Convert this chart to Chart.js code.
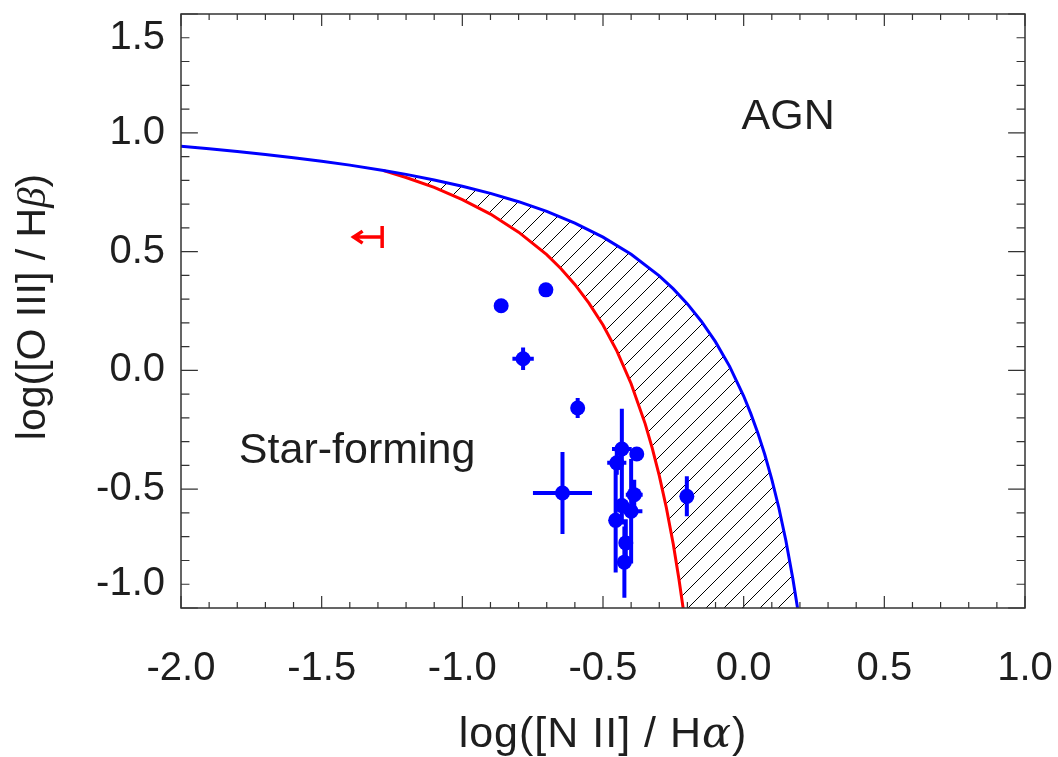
<!DOCTYPE html>
<html>
<head>
<meta charset="utf-8">
<script src="https://cdn.jsdelivr.net/npm/chart.js@4.4.0/dist/chart.umd.min.js"></script>
<style>
  body { margin: 0; background: #fff; }
  canvas { display: block; }
</style>
</head>
<body>
<canvas id="bpt" width="1058" height="757"></canvas>
<script>
//############################
//######    Data     ########
//############################

// galaxies: log([N II]/Ha), log([O III]/Hb) and their 1-sigma errors
const sfX    = [-0.862, -0.703, -0.784, -0.590, -0.644, -0.202, -0.433, -0.380, -0.451, -0.389, -0.433, -0.400, -0.455, -0.419, -0.424];
const sfY    = [ 0.272,  0.339,  0.049, -0.158, -0.516, -0.530, -0.331, -0.352, -0.389, -0.523, -0.569, -0.593, -0.631, -0.726, -0.807];
const sfXerr = [ 0.000,  0.000,  0.038,  0.012,  0.105,  0.000,  0.035,  0.000,  0.034,  0.030,  0.000,  0.040,  0.000,  0.000,  0.000];
const sfYerr = [ 0.000,  0.000,  0.047,  0.042,  0.173,  0.084,  0.170,  0.000,  0.050,  0.063,  0.080,  0.220,  0.220,  0.100,  0.150];

// one object with only an upper limit on [N II]/Ha
const limX = [-1.285];
const limY = [0.561];
const limLen = 0.105;

// Kewley et al. (2001) maximum starburst line
const kewX = [-2.0, -1.9, -1.8, -1.7, -1.6, -1.5, -1.4, -1.28, -1.2, -1.1, -1.0, -0.9, -0.8, -0.7, -0.6, -0.5, -0.4, -0.3, -0.25, -0.2, -0.15, -0.1, -0.05, 0.0, 0.025, 0.05, 0.075, 0.1, 0.125, 0.15, 0.175, 0.192];
const kewY = [0.943, 0.933, 0.921, 0.909, 0.895, 0.880, 0.864, 0.841, 0.825, 0.801, 0.775, 0.745, 0.710, 0.669, 0.620, 0.561, 0.489, 0.398, 0.343, 0.280, 0.206, 0.120, 0.017, -0.108, -0.181, -0.262, -0.354, -0.459, -0.578, -0.716, -0.878, -1.004];

// Kauffmann et al. (2003) empirical line
const kaufX = [-1.28, -1.2, -1.1, -1.0, -0.9, -0.8, -0.7, -0.65, -0.6, -0.55, -0.5, -0.45, -0.4, -0.35, -0.325, -0.3, -0.275, -0.25, -0.23, -0.215];
const kaufY = [0.841, 0.812, 0.770, 0.719, 0.658, 0.582, 0.487, 0.429, 0.362, 0.283, 0.191, 0.080, -0.056, -0.225, -0.327, -0.443, -0.577, -0.733, -0.879, -1.002];

// axis labels (the end labels on y sit one minor tick inside the frame)
const xTicks = [-2.0, -1.5, -1.0, -0.5, 0.0, 0.5, 1.0];
const yTickVals = [-0.9, -0.5, 0.0, 0.5, 1.0, 1.4];
const yTickText = ['-1.0', '-0.5', '0.0', '0.5', '1.0', '1.5'];

const regionText = ['AGN', 'Star-forming'];
const regionX = [0.158, -1.374];
const regionY = [1.065, -0.338];

//############################
//######   Helpers   ########
//############################

const FONT = '"Liberation Sans", Arial, Helvetica, sans-serif';
const INK = '#1e1e1e';

function toPoints(xs, ys) {
  return xs.map((x, i) => ({ x: x, y: ys[i] }));
}

// composite region between the two lines: Kewley from where they meet, back up along Kauffmann
const iMeet = kewX.indexOf(kaufX[0]);
const hatchPts = toPoints(kewX.slice(iMeet), kewY.slice(iMeet))
  .concat(toPoints(kaufX, kaufY).reverse());

function hatchPattern() {
  const s = 18;
  const c = document.createElement('canvas');
  c.width = s; c.height = s;
  const g = c.getContext('2d');
  g.strokeStyle = '#000';
  g.lineWidth = 1;
  g.beginPath();
  g.moveTo(0, s); g.lineTo(s, 0);
  g.moveTo(-2, 2); g.lineTo(2, -2);
  g.moveTo(s - 2, s + 2); g.lineTo(s + 2, s - 2);
  g.stroke();
  return g.createPattern(c, 'repeat');
}

// text made of pieces with their own fonts, centred on x
function drawMixed(ctx, parts, x, y, spacing) {
  ctx.letterSpacing = (spacing || 0) + 'px';
  let w = 0;
  parts.forEach(p => { ctx.font = p[1]; w += ctx.measureText(p[0]).width; });
  let cx = x - w / 2;
  ctx.textAlign = 'left';
  ctx.textBaseline = 'alphabetic';
  parts.forEach(p => {
    ctx.font = p[1];
    ctx.fillText(p[0], cx, y);
    cx += ctx.measureText(p[0]).width;
  });
  ctx.letterSpacing = '0px';
}

//############################
//######   Plugins   ########
//############################

const errorBars = {
  id: 'errorBars',
  afterDatasetsDraw(chart) {
    const ctx = chart.ctx, xs = chart.scales.x, ys = chart.scales.y;
    ctx.save();
    ctx.strokeStyle = '#0000ff';
    ctx.lineWidth = 4;
    ctx.beginPath();
    for (let i = 0; i < sfX.length; i++) {
      const px = xs.getPixelForValue(sfX[i]);
      const py = ys.getPixelForValue(sfY[i]);
      if (sfXerr[i] > 0) {
        ctx.moveTo(xs.getPixelForValue(sfX[i] - sfXerr[i]), py);
        ctx.lineTo(xs.getPixelForValue(sfX[i] + sfXerr[i]), py);
      }
      if (sfYerr[i] > 0) {
        ctx.moveTo(px, ys.getPixelForValue(sfY[i] - sfYerr[i]));
        ctx.lineTo(px, ys.getPixelForValue(sfY[i] + sfYerr[i]));
      }
    }
    ctx.stroke();

    // upper limit: bar plus arrow pointing to lower [N II]/Ha
    ctx.strokeStyle = '#ff0000';
    ctx.lineWidth = 3.5;
    for (let i = 0; i < limX.length; i++) {
      const px = xs.getPixelForValue(limX[i]);
      const py = ys.getPixelForValue(limY[i]);
      const tip = xs.getPixelForValue(limX[i] - limLen);
      ctx.beginPath();
      ctx.moveTo(px, py - 11); ctx.lineTo(px, py + 11);
      ctx.moveTo(px, py); ctx.lineTo(tip, py);
      ctx.moveTo(tip + 10, py - 6); ctx.lineTo(tip + 1, py); ctx.lineTo(tip + 10, py + 6);
      ctx.stroke();
    }
    ctx.restore();
  }
};

const frame = {
  id: 'frame',
  afterDraw(chart) {
    const ctx = chart.ctx, a = chart.chartArea;
    const xs = chart.scales.x, ys = chart.scales.y;
    const w = a.right - a.left, h = a.bottom - a.top;
    ctx.save();

    // box
    ctx.strokeStyle = '#333';
    ctx.lineWidth = 1.5;
    ctx.strokeRect(a.left, a.top, w, h);

    // inward ticks on all four sides, major every 0.5, minor every 0.1
    ctx.lineWidth = 1.2;
    ctx.beginPath();
    for (let k = 0; k <= 30; k++) {
      const v = -2 + k * 0.1;
      const px = xs.getPixelForValue(v);
      const len = (k % 5 === 0) ? 0.02 * h : 0.01 * h;
      ctx.moveTo(px, a.bottom); ctx.lineTo(px, a.bottom - len);
      ctx.moveTo(px, a.top); ctx.lineTo(px, a.top + len);
    }
    for (let k = 0; k <= 25; k++) {
      const v = -1 + k * 0.1;
      const py = ys.getPixelForValue(v);
      const len = (k % 5 === 0) ? 0.02 * w : 0.01 * w;
      ctx.moveTo(a.left, py); ctx.lineTo(a.left + len, py);
      ctx.moveTo(a.right, py); ctx.lineTo(a.right - len, py);
    }
    ctx.stroke();

    // axis titles
    ctx.fillStyle = INK;
    drawMixed(ctx, [['log([N II] / H', '43px ' + FONT],
                    ['\u03b1', 'italic 43px "DejaVu Serif", serif'],
                    [')', '43px ' + FONT]],
      (a.left + a.right) / 2, 747, 1);

    ctx.save();
    ctx.translate(45, (a.top + a.bottom) / 2 - 4);
    ctx.rotate(-Math.PI / 2);
    drawMixed(ctx, [['log([O III] / H', '41px ' + FONT],
                    ['\u03b2', 'italic 41px "Liberation Serif", serif'],
                    [')', '41px ' + FONT]], 0, 0);
    ctx.restore();

    // region names
    ctx.font = '43px ' + FONT;
    ctx.textAlign = 'center';
    ctx.textBaseline = 'middle';
    for (let i = 0; i < regionText.length; i++) {
      ctx.fillText(regionText[i], xs.getPixelForValue(regionX[i]), ys.getPixelForValue(regionY[i]));
    }
    ctx.restore();
  }
};

//############################
//######    Chart    ########
//############################

const config = {
  type: 'scatter',
  data: {
    datasets: [
      {
        label: 'galaxies',
        data: toPoints(sfX, sfY),
        backgroundColor: '#0000ff',
        borderWidth: 0,
        pointRadius: 7.5
      },
      {
        label: 'Kewley 2001',
        data: toPoints(kewX, kewY),
        showLine: true,
        borderColor: '#0000ff',
        borderWidth: 3,
        pointRadius: 0,
        tension: 0
      },
      {
        label: 'Kauffmann 2003',
        data: toPoints(kaufX, kaufY),
        showLine: true,
        borderColor: '#ff0000',
        borderWidth: 3,
        pointRadius: 0,
        tension: 0
      },
      {
        label: 'composite',
        data: hatchPts,
        showLine: true,
        fill: 'shape',
        backgroundColor: hatchPattern(),
        borderWidth: 0,
        pointRadius: 0,
        tension: 0
      }
    ]
  },
  options: {
    responsive: false,
    animation: false,
    devicePixelRatio: 1,
    layout: { padding: { top: 14, right: 33, left: 0, bottom: 0 } },
    plugins: {
      legend: { display: false },
      tooltip: { enabled: false }
    },
    scales: {
      x: {
        type: 'linear',
        min: -2,
        max: 1,
        grid: { display: false, drawTicks: false },
        border: { display: false },
        afterBuildTicks: s => { s.ticks = xTicks.map(v => ({ value: v })); },
        afterFit: s => { s.height = 149; s.paddingLeft = 0; s.paddingRight = 0; },
        ticks: {
          autoSkip: false,
          maxRotation: 0,
          padding: 37,
          color: INK,
          font: { family: FONT, size: 40 },
          callback: v => v.toFixed(1)
        }
      },
      y: {
        type: 'linear',
        min: -1,
        max: 1.5,
        grid: { display: false, drawTicks: false },
        border: { display: false },
        afterBuildTicks: s => { s.ticks = yTickVals.map(v => ({ value: v })); },
        afterFit: s => { s.width = 181; s.paddingTop = 0; s.paddingBottom = 0; },
        ticks: {
          autoSkip: false,
          padding: 16,
          color: INK,
          font: { family: FONT, size: 40 },
          callback: (v, i) => yTickText[i]
        }
      }
    }
  },
  plugins: [errorBars, frame]
};

const bptChart = new Chart(document.getElementById('bpt'), config);
</script>
</body>
</html>
